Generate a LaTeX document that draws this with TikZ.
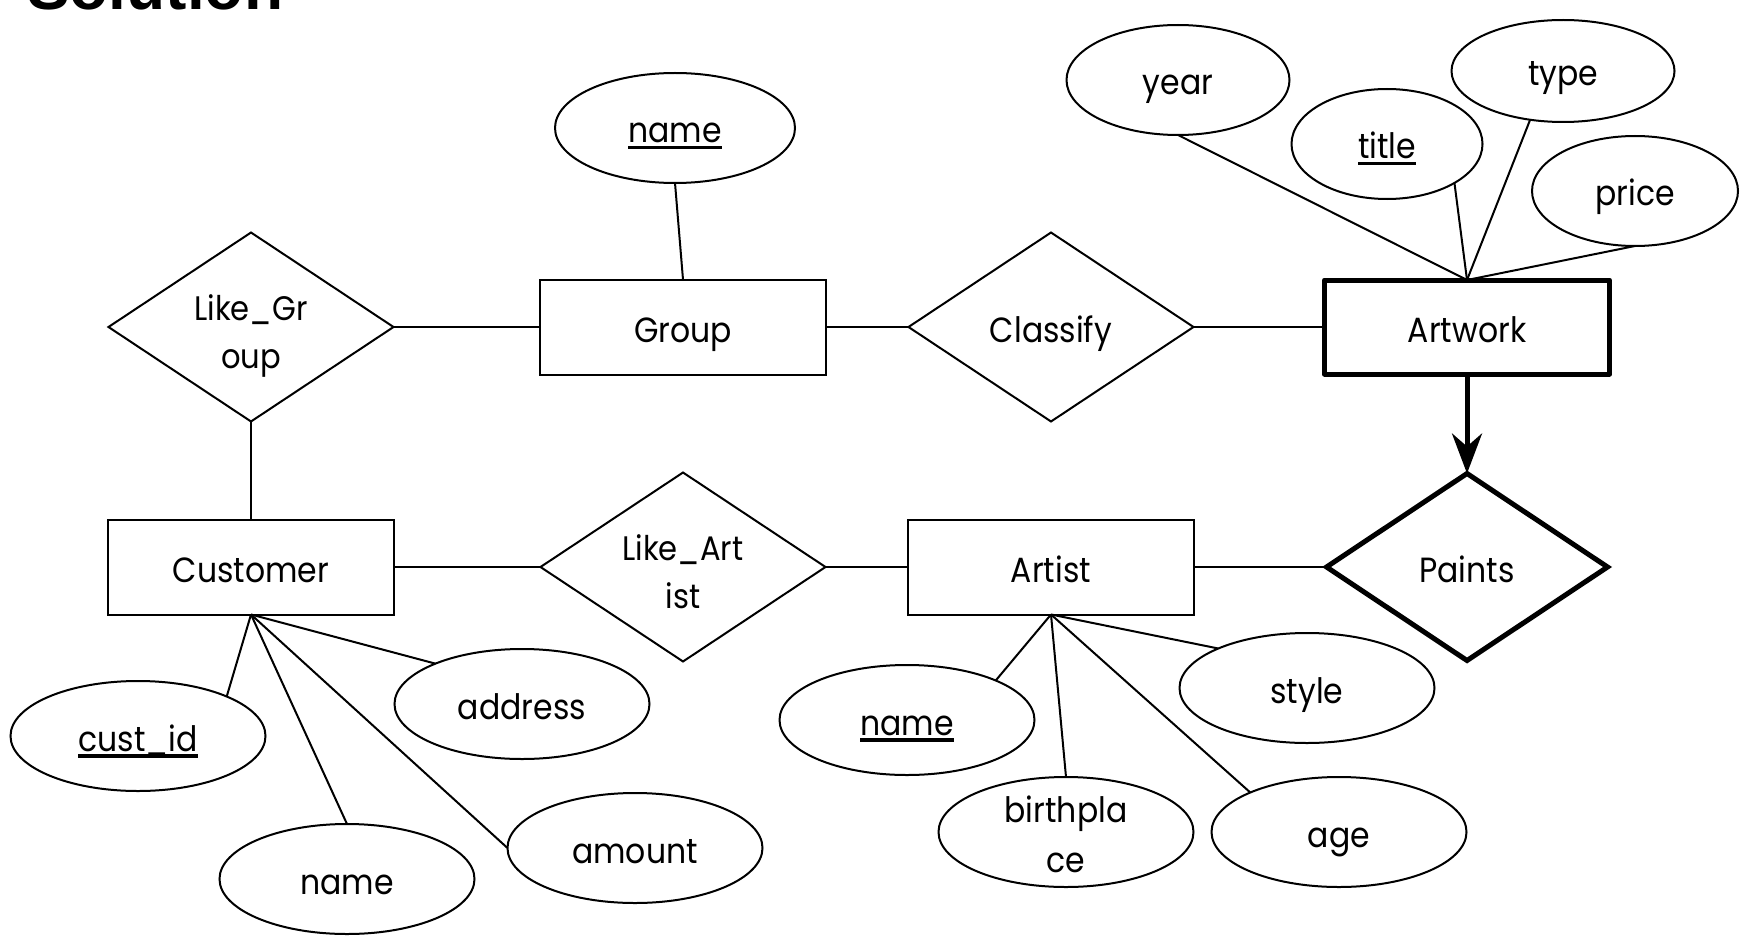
\documentclass[tikz,border=0pt]{standalone}
\usepackage{fontspec}
\setmainfont{Poppins}[FakeStretch=0.9]
\newfontfamily\titlefont{Liberation Sans}
\usetikzlibrary{shapes.geometric,arrows.meta}
\newcommand\myul[1]{\setbox0\hbox{#1}\rlap{\rule[-6.5pt]{\wd0}{3.5pt}}\box0}
\begin{document}
\begin{tikzpicture}[x=1pt,y=-1pt,
  conn/.style={line width=2pt},
  ent/.style={draw, line width=2pt, rectangle, minimum width=286pt, minimum height=95pt,
    inner sep=0pt, outer sep=0pt, font=\fontsize{35pt}{42pt}\selectfont,
    text height=38pt, text depth=8pt},
  went/.style={ent, line width=5pt, line join=round, minimum width=285pt, minimum height=94pt},
  rel/.style={draw, line width=2pt, diamond, minimum width=285pt, minimum height=189pt,
    inner sep=0pt, outer sep=0pt, font=\fontsize{35pt}{48pt}\selectfont,
    text height=38pt, text depth=8pt},
  reltwo/.style={rel, align=center, aspect=1.5, font=\fontsize{34pt}{48pt}\selectfont,
    text height=82pt, text depth=0pt},
  wrel/.style={rel, line width=5pt, minimum width=281pt, minimum height=187pt},
  attr/.style={draw, line width=2pt, ellipse, minimum width=255pt, minimum height=110pt,
    inner sep=0pt, outer sep=0pt, font=\fontsize{35pt}{50pt}\selectfont,
    text height=38pt, text depth=8pt},
]
\useasboundingbox (0,0) rectangle (1747,936);

\node[anchor=base west, inner sep=0pt, font=\titlefont\bfseries\fontsize{64pt}{70pt}\selectfont]
  (soltitle) at (27,10) {Solution};

% entities
\node[ent]  (group)    at (683,327)  {Group};
\node[went] (artwork)  at (1467,327) {Artwork};
\node[ent]  (customer) at (251,567)  {Customer};
\node[ent]  (artist)   at (1051,567) {Artist};

% relationships
\node[reltwo] (likegroup)  at (251,327)  {Like\_Gr\\oup};
\node[rel]    (classify)   at (1051,327) {Classify};
\node[reltwo] (likeartist) at (683,567)  {Like\_Art\\ist};
\node[wrel]   (paints)     at (1467,567) {Paints};

% attributes
\node[attr, minimum width=240pt] (gname) at (675,128) {\myul{name}};
\node[attr, minimum width=223pt] (year)  at (1178,80) {year};
\node[attr, minimum width=191pt] (atitle) at (1387,144) {\myul{title}};
\node[attr, minimum width=223pt, minimum height=102pt] (type) at (1563,71) {type};
\node[attr, minimum width=206pt] (price) at (1635,191) {price};

\node[attr] (custid)  at (138,736) {\myul{cust\_id}};
\node[attr] (cname)   at (347,879) {name};
\node[attr] (address) at (522,704) {address};
\node[attr] (amount)  at (635,848) {amount};

\node[attr] (aname) at (907,720) {\myul{name}};
\node[attr, align=center, text height=80pt, text depth=0pt, inner ysep=-4pt] (birth) at (1066,832) {birthpla\\ce};
\node[attr] (style) at (1307,688) {style};
\node[attr] (age)   at (1339,832) {age};

% relationship connectors
\draw[conn] (likegroup) -- (group);
\draw[conn] (group) -- (classify);
\draw[conn] (classify) -- (artwork);
\draw[conn] (likegroup) -- (customer);
\draw[conn] (customer) -- (likeartist);
\draw[conn] (likeartist) -- (artist);
\draw[conn] (artist) -- (paints);
\draw[line width=5pt, -{Stealth[length=40pt,width=30pt,inset=13pt]}] (artwork.south) -- (paints.north);

% attribute connectors
\draw[conn] (gname.south) -- (group.north);
\draw[conn] (artwork.north) -- (year.south);
\draw[conn] (artwork.north) -- (atitle.-30);
\draw[conn] (artwork.north) -- (type.-124);
\draw[conn] (artwork.north) -- (price.south);

\draw[conn] (customer.south) -- (custid.24);
\draw[conn] (customer.south) -- (cname.north);
\draw[conn] (customer.south) -- (amount.west);
\draw[conn] (customer.south) -- (address.155);

\draw[conn] (artist.south) -- (aname.24);
\draw[conn] (artist.south) -- (birth.north);
\draw[conn] (artist.south) -- (age.156);
\draw[conn] (artist.south) -- (style.156);
\end{tikzpicture}
\end{document}
